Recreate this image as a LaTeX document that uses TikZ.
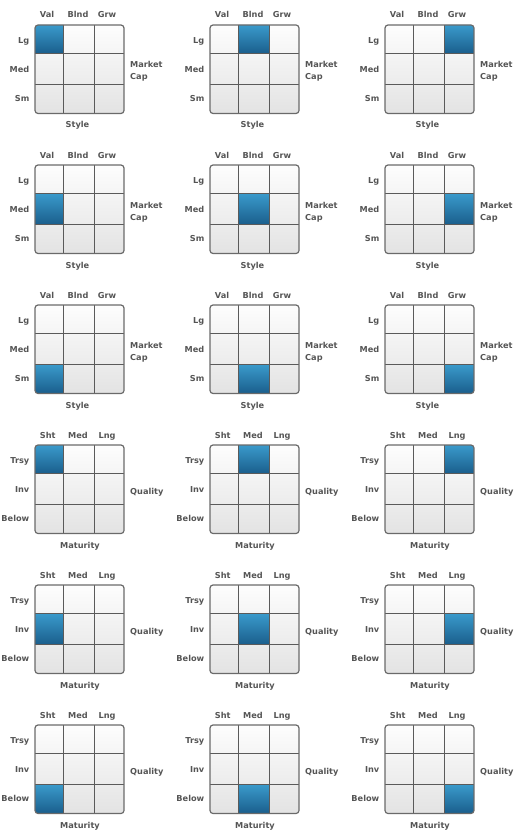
\documentclass[tikz,border=0pt]{standalone}
\usepackage{fontspec}
\setmainfont{DejaVu Sans}
\definecolor{txt}{HTML}{555555}
\definecolor{bordc}{HTML}{6A6A6A}
\definecolor{linec}{HTML}{5A5A5A}
\definecolor{celltop}{HTML}{FDFDFD}
\definecolor{cellbot}{HTML}{E3E3E3}
\definecolor{bluetop}{HTML}{3A9ACB}
\definecolor{bluebot}{HTML}{1A5E8C}
\begin{document}
\begin{tikzpicture}[x=1pt,y=-1pt,
  lbl/.style={font=\bfseries\fontsize{8.2}{10}\selectfont, text=txt, inner sep=0pt},
  gridline/.style={draw=linec, line width=1pt},
  boxborder/.style={draw=bordc, line width=1.2pt, rounded corners=3pt}]
\useasboundingbox (0,0) rectangle (525,840);
\def\xs{{35,63.5,94.5,124}}
\def\ys{{25,53.5,84.5,113.5}}
\foreach \gi in {0,...,5}{
  \foreach \gj in {0,1,2}{
    \pgfmathsetmacro\ox{175*\gj}
    \pgfmathsetmacro\oy{140*\gi}
    \pgfmathtruncatemacro\hr{mod(\gi,3)}
    \pgfmathtruncatemacro\hc{\gj}
    \pgfmathsetmacro\hxa{\xs[\hc]}
    \pgfmathsetmacro\hxb{\xs[\hc+1]}
    \pgfmathsetmacro\hya{\ys[\hr]}
    \pgfmathsetmacro\hyb{\ys[\hr+1]}
    \begin{scope}[shift={(\ox,\oy)}]
      \begin{scope}
        \clip[rounded corners=3pt] (35,25) rectangle (124,113.5);
        \shade[top color=celltop, bottom color=cellbot] (35,25) rectangle (124,113.5);
        \shade[top color=bluetop, bottom color=bluebot] (\hxa,\hya) rectangle (\hxb,\hyb);
      \end{scope}
      \draw[gridline] (63.5,25) -- (63.5,113.5) (94.5,25) -- (94.5,113.5)
                      (35,53.5) -- (124,53.5) (35,84.5) -- (124,84.5);
      \draw[boxborder] (35,25) rectangle (124,113.5);
      \ifnum\gi<3
        \node[lbl, anchor=base] (c1-\gi-\gj) at (47,18) {Val};
        \node[lbl, anchor=base] (c2-\gi-\gj) at (78,18) {Blnd};
        \node[lbl, anchor=base] (c3-\gi-\gj) at (107,18) {Grw};
        \node[lbl, anchor=base east] (r1-\gi-\gj) at (29.5,43.8) {Lg};
        \node[lbl, anchor=base east] (r2-\gi-\gj) at (29.5,72.3) {Med};
        \node[lbl, anchor=base east] (r3-\gi-\gj) at (29.5,101.3) {Sm};
        \node[lbl, anchor=base west] (s1-\gi-\gj) at (130,68) {Market};
        \node[lbl, anchor=base west] (s2-\gi-\gj) at (130,80) {Cap};
        \node[lbl, anchor=base] (b-\gi-\gj) at (77.5,128) {Style};
      \else
        \node[lbl, anchor=base] (c1-\gi-\gj) at (47.7,18) {Sht};
        \node[lbl, anchor=base] (c2-\gi-\gj) at (78,18) {Med};
        \node[lbl, anchor=base] (c3-\gi-\gj) at (107,18) {Lng};
        \node[lbl, anchor=base east] (r1-\gi-\gj) at (29.5,43.8) {Trsy};
        \node[lbl, anchor=base east] (r2-\gi-\gj) at (29.5,72.3) {Inv};
        \node[lbl, anchor=base east] (r3-\gi-\gj) at (29.5,101.3) {Below};
        \node[lbl, anchor=base west] (s1-\gi-\gj) at (130,74.7) {Quality};
        \node[lbl, anchor=base] (b-\gi-\gj) at (80,128) {Maturity};
      \fi
    \end{scope}
  }
}
\end{tikzpicture}
\end{document}
